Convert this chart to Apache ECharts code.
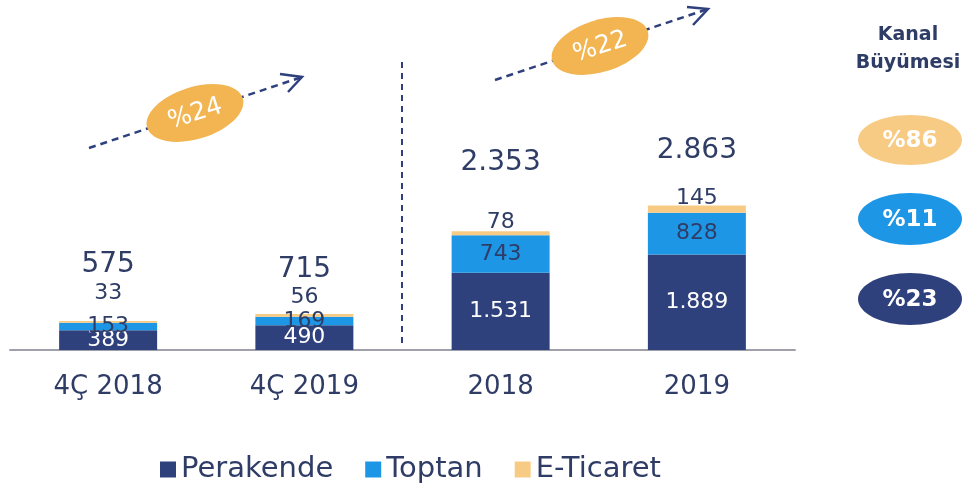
<!DOCTYPE html>
<html>
<head>
<meta charset="utf-8">
<script src="https://cdn.jsdelivr.net/npm/echarts@6/dist/echarts.min.js"></script>
<style>
  html, body { margin: 0; padding: 0; background: #fff; }
  #chart { width: 964px; height: 489px; }
</style>
</head>
<body>
<div id="chart"></div>
<script>
var categories = ['4Ç 2018', '4Ç 2019', '2018', '2019'];
var perakende = [389, 490, 1531, 1889];
var toptan = [153, 169, 743, 828];
var eticaret = [33, 56, 78, 145];
var totals = [575, 715, 2353, 2863];

// label lifts (layout only)
var etLift = [17, 6, -2, -4];
var totalLift = [42, 30, 54, 41];

var navy = '#2F417D';
var blue = '#1E96E6';
var sand = '#F8CB85';
var orange = '#F2B551';
var textCol = '#2F3D66';
var font = 'DejaVu Sans';

function fmt(v) {
    return String(v).replace(/\B(?=(\d{3})+(?!\d))/g, '.');
}

function withLift(values, lifts) {
    return values.map(function (v, i) {
        return { value: v, label: { distance: lifts[i] } };
    });
}

function arrow(x1, y1, x2, y2, h1, h2) {
    return [
        { type: 'line', shape: { x1: x1, y1: y1, x2: x2, y2: y2 },
          style: { stroke: navy, lineWidth: 2.5, lineDash: [7, 5] } },
        { type: 'polyline', shape: { points: [h1, [x2, y2], h2] },
          style: { stroke: navy, lineWidth: 2.5, fill: null } }
    ];
}

function badge(x, y, rot, rx, ry, color, text, weight, size) {
    return {
        type: 'group', x: x, y: y, rotation: rot,
        children: [
            { type: 'ellipse', shape: { cx: 0, cy: 0, rx: rx, ry: ry }, style: { fill: color } },
            { type: 'text', x: 0, y: 1, style: { text: text, fill: '#fff', font: weight + ' ' + size + 'px ' + font,
                textAlign: 'center', textVerticalAlign: 'middle' } }
        ]
    };
}

var myChart = echarts.init(document.getElementById('chart'));

var graphics = [
    { type: 'line', shape: { x1: 402, y1: 62, x2: 402, y2: 345 },
      style: { stroke: navy, lineWidth: 2, lineDash: [6, 5] } }
];
graphics = graphics.concat(arrow(89, 148, 302, 77, [280, 74], [288, 92]));
graphics = graphics.concat(arrow(495, 80, 708, 9, [687, 7], [693, 25]));
graphics.push(badge(195, 113, 0.3, 50, 26, orange, '%24', 'normal', 25));
graphics.push(badge(600, 46, 0.3, 50, 26, orange, '%22', 'normal', 25));
graphics.push({ type: 'text', x: 908, y: 35, style: { text: 'Kanal', fill: textCol,
    font: 'bold 19px ' + font, textAlign: 'center', textVerticalAlign: 'middle' } });
graphics.push({ type: 'text', x: 908, y: 63, style: { text: 'Büyümesi', fill: textCol,
    font: 'bold 19px ' + font, textAlign: 'center', textVerticalAlign: 'middle' } });
graphics.push(badge(910, 140, 0, 52, 25, sand, '%86', 'bold', 23));
graphics.push(badge(910, 219, 0, 52, 26, blue, '%11', 'bold', 23));
graphics.push(badge(910, 299, 0, 52, 26, navy, '%23', 'bold', 23));

var option = {
    animation: false,
    textStyle: { fontFamily: font },
    grid: { left: 10, right: 169, top: 148, bottom: 139 },
    legend: {
        data: ['Perakende', 'Toptan', 'E-Ticaret'],
        left: 155, top: 450,
        itemWidth: 16, itemHeight: 16, itemGap: 32,
        icon: 'rect',
        textStyle: { fontSize: 29, color: textCol, fontFamily: font }
    },
    xAxis: {
        type: 'category',
        data: categories,
        axisLine: { lineStyle: { color: '#A0A0AA', width: 2 } },
        axisTick: { show: false },
        axisLabel: { fontSize: 26, color: textCol, margin: 24, fontFamily: font }
    },
    yAxis: { type: 'value', min: 0, max: 4000, show: false, splitLine: { show: false } },
    series: [
        { name: 'Perakende', type: 'bar', stack: 'a', barWidth: 98, data: perakende,
          itemStyle: { color: navy },
          label: { show: true, position: 'inside', color: '#fff', fontSize: 22,
                   formatter: function (p) { return fmt(p.value); } } },
        { name: 'Toptan', type: 'bar', stack: 'a', data: toptan,
          itemStyle: { color: blue },
          label: { show: true, position: 'inside', color: textCol, fontSize: 22,
                   formatter: function (p) { return fmt(p.value); } } },
        { name: 'E-Ticaret', type: 'bar', stack: 'a', data: withLift(eticaret, etLift),
          itemStyle: { color: sand },
          label: { show: true, position: 'top', color: textCol, fontSize: 22,
                   formatter: function (p) { return fmt(p.value); } } },
        { name: 'Toplam', type: 'scatter', symbolSize: 0, data: withLift(totals, totalLift),
          itemStyle: { opacity: 1 },
          label: { show: true, position: 'top', color: textCol, fontSize: 28,
                   formatter: function (p) { return fmt(p.value); } } }
    ],
    graphic: graphics
};

myChart.setOption(option);
</script>
</body>
</html>
